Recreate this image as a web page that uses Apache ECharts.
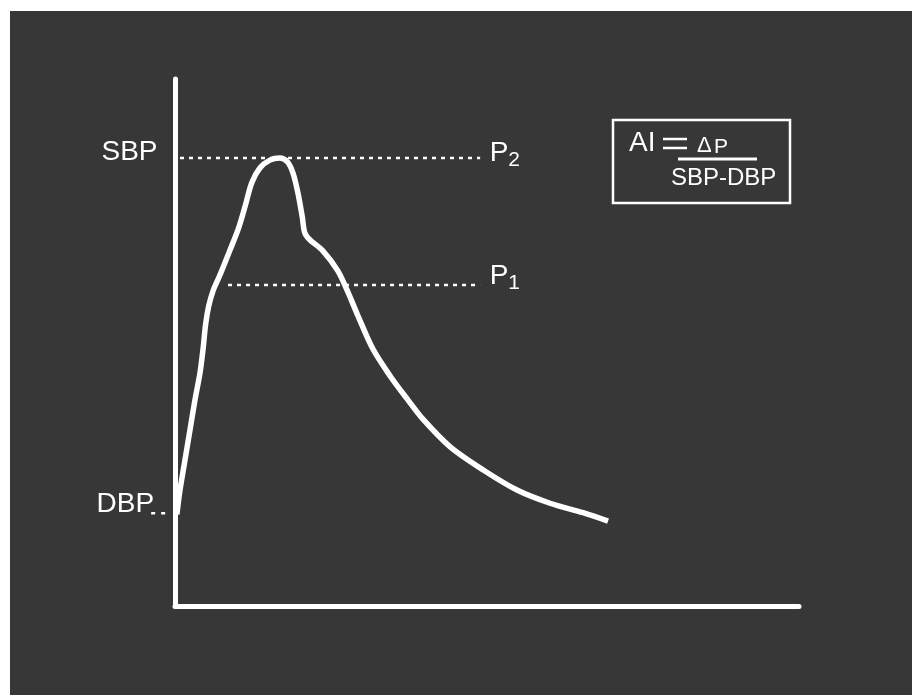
<!DOCTYPE html>
<html>
<head>
<meta charset="utf-8">
<script src="https://cdn.jsdelivr.net/npm/echarts@6/dist/echarts.min.js"></script>
<style>
  html, body { margin: 0; padding: 0; background: #ffffff; }
  #wrap { position: relative; width: 912px; height: 695px; background: #ffffff; overflow: hidden; }
  #bg { position: absolute; left: 10px; top: 11px; right: 0; bottom: 0; background: #373737; }
  #chart { position: absolute; left: 0; top: 0; width: 912px; height: 695px; }
</style>
</head>
<body>
<div id="wrap"><div id="bg"></div><div id="chart"></div></div>
<script>
// Pulse waveform (time units 0-100 across the x axis, pressure units 0-100 up the y axis)
const waveTime = [0.3, 0.8, 1.6, 2.4, 3.2, 4.0, 4.5, 4.9, 5.4, 6.1, 7.2, 8.8, 10.1, 11.2, 12.3, 13.6, 15.2, 16.8, 18.0, 18.9, 19.7, 20.4, 20.8, 21.6, 23.7, 26.1, 27.7, 29.2, 31.7, 34.5, 37.2, 39.7, 44.1, 49.4, 54.8, 60.1, 65.4, 69.4];
const wavePressure = [17.4, 22.0, 27.7, 33.4, 39.1, 44.2, 48.8, 53.4, 56.9, 59.8, 62.8, 67.5, 71.4, 75.7, 80.3, 83.1, 84.6, 85.0, 84.3, 82.2, 78.4, 73.8, 70.8, 69.5, 67.4, 63.6, 59.6, 55.4, 48.8, 43.6, 39.3, 35.5, 30.2, 25.8, 22.0, 19.5, 17.7, 16.1];

// Reference levels
const levelNames = ['SBP', 'P1', 'DBP'];
const SBP = 85.0;
const P1 = 60.9;
const DBP = 17.6;
const sbpLineX = [0.8, 48.9];
const p1LineX = [8.5, 48.9];
const dbpDotX = [-3.5, -1.9];

// Formula text
const formulaLeft = 'AI';
const formulaDelta = 'Δ';
const formulaP = 'P';
const formulaDen = 'SBP-DBP';

const FONT = 'Liberation Sans, Arial, sans-serif';
const WHITE = '#ffffff';

const chart = echarts.init(document.getElementById('chart'), null, { renderer: 'canvas' });

function dotted(name, xs, y, startLabel, endLabel) {
  const data = xs.map((x, i) => {
    const item = { value: [x, y] };
    if (i === 0 && startLabel) item.label = startLabel;
    if (i === xs.length - 1 && endLabel) item.label = endLabel;
    return item;
  });
  return {
    name: name,
    type: 'line',
    data: data,
    clip: false,
    symbol: 'circle',
    symbolSize: 1,
    itemStyle: { color: 'rgba(0,0,0,0)' },
    lineStyle: { color: WHITE, width: 2.5, type: [4, 5] },
    label: { show: false },
    emphasis: { disabled: true },
    silent: true,
    z: 3
  };
}

const labelBase = { show: true, color: WHITE, opacity: 1, fontSize: 28, fontFamily: FONT };

const option = {
  backgroundColor: 'transparent',
  animation: false,
  grid: { left: 175, right: 113, top: 79, bottom: 89 },
  xAxis: {
    type: 'value', min: 0, max: 100,
    axisLine: { show: true, lineStyle: { color: WHITE, width: 5 } },
    axisTick: { show: false }, axisLabel: { show: false }, splitLine: { show: false }
  },
  yAxis: {
    type: 'value', min: 0, max: 100,
    axisLine: { show: true, lineStyle: { color: WHITE, width: 5 } },
    axisTick: { show: false }, axisLabel: { show: false }, splitLine: { show: false }
  },
  series: [
    {
      name: 'pulse',
      type: 'line',
      data: waveTime.map((t, i) => [t, wavePressure[i]]),
      smooth: 0.3,
      symbol: 'none',
      lineStyle: { color: WHITE, width: 5.5 },
      silent: true,
      z: 4
    },
    dotted(levelNames[0], sbpLineX, SBP,
      Object.assign({}, labelBase, { position: 'left', distance: 22, offset: [0, -6], formatter: 'SBP' }),
      Object.assign({}, labelBase, { position: 'right', distance: 9, offset: [0, -5], formatter: 'P{s|2}',
        rich: { s: { fontSize: 21, fontFamily: FONT, color: WHITE, padding: [14, 0, 0, 0] } } })
    ),
    dotted(levelNames[1], p1LineX, P1, null,
      Object.assign({}, labelBase, { position: 'right', distance: 9, offset: [0, -9], formatter: 'P{s|1}',
        rich: { s: { fontSize: 21, fontFamily: FONT, color: WHITE, padding: [14, 0, 0, 0] } } })
    ),
    {
      name: levelNames[2],
      type: 'scatter',
      clip: false,
      symbol: 'rect',
      symbolSize: [4, 2.5],
      itemStyle: { color: WHITE, opacity: 1 },
      emphasis: { disabled: true },
      silent: true,
      data: dbpDotX.map((x, i) => i === 0
        ? { value: [x, DBP], label: Object.assign({}, labelBase, { position: 'left', distance: 0, offset: [3, -9], formatter: 'DBP' }) }
        : { value: [x, DBP] }),
      z: 3
    }
  ],
  graphic: [
    { type: 'rect', shape: { x: 613, y: 120, width: 177, height: 83 },
      style: { fill: 'none', stroke: WHITE, lineWidth: 2.5 }, silent: true },
    { type: 'text', x: 629, y: 143,
      style: { text: formulaLeft, fill: WHITE, font: '28px ' + FONT, textVerticalAlign: 'middle' }, silent: true },
    { type: 'line', shape: { x1: 663, y1: 139, x2: 687, y2: 139 },
      style: { stroke: WHITE, lineWidth: 2.5 }, silent: true },
    { type: 'line', shape: { x1: 663, y1: 148, x2: 687, y2: 148 },
      style: { stroke: WHITE, lineWidth: 2.5 }, silent: true },
    { type: 'text', x: 697, y: 146,
      style: { text: formulaDelta, fill: WHITE, font: '22px ' + FONT, textVerticalAlign: 'middle' }, silent: true },
    { type: 'text', x: 714, y: 147,
      style: { text: formulaP, fill: WHITE, font: '21px ' + FONT, textVerticalAlign: 'middle' }, silent: true },
    { type: 'line', shape: { x1: 678, y1: 159, x2: 757, y2: 159 },
      style: { stroke: WHITE, lineWidth: 3 }, silent: true },
    { type: 'text', x: 671, y: 178,
      style: { text: formulaDen, fill: WHITE, font: '24px ' + FONT, textVerticalAlign: 'middle' }, silent: true }
  ]
};

chart.setOption(option);
</script>
</body>
</html>
